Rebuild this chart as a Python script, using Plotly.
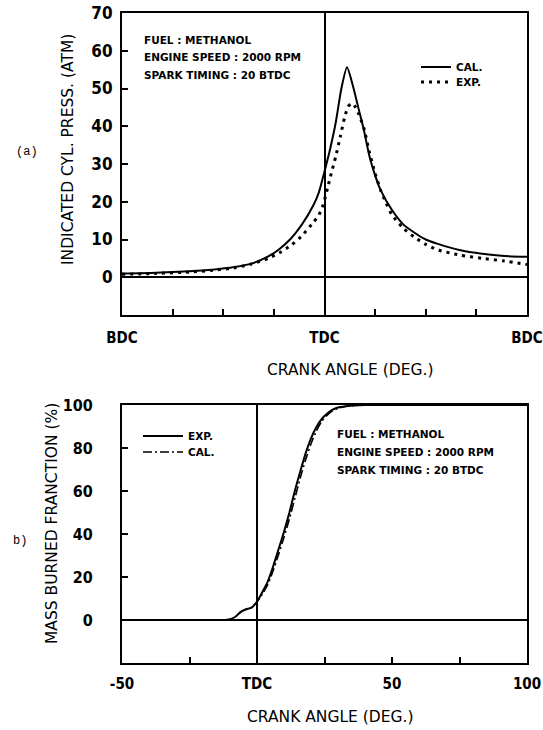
import plotly.graph_objects as go

# ---------------- data ----------------
# (a) indicated cylinder pressure vs crank angle (deg, TDC = 0)
p_cal_deg = [-180, -150, -120, -100, -80, -65, -50, -40, -30, -20, -10, -5, 0, 5, 10, 15, 20,
             25, 30, 35, 40, 45, 50, 60, 70, 80, 90, 100, 120, 140, 160, 180]
p_cal_atm = [1.0, 1.2, 1.6, 2.0, 2.7, 3.6, 5.5, 7.5, 10.2, 14.0, 19.0, 22.5, 28.0, 34.0, 41.0, 50.0, 55.6,
             51.0, 45.0, 39.0, 32.0, 27.0, 23.0, 17.8, 14.0, 11.8, 10.0, 8.9, 7.2, 6.2, 5.6, 5.4]

p_exp_deg = [-180, -150, -120, -100, -80, -65, -50, -40, -30, -20, -10, -5, -2, 0, 3, 6, 10, 14, 18,
             21, 24, 27, 30, 35, 40, 45, 50, 55, 60, 70, 80, 90, 100, 120, 140, 160, 180]
p_exp_atm = [0.8, 1.0, 1.4, 1.8, 2.5, 3.5, 5.0, 6.5, 8.4, 11.0, 14.5, 16.5, 18.5, 20.4, 24.0, 27.5, 32.0, 37.2, 42.5,
             45.2, 46.1, 45.3, 43.5, 39.5, 33.0, 27.5, 23.0, 19.5, 16.5, 13.0, 10.6, 8.7, 7.3, 5.9, 5.0, 4.3, 3.4]

# (b) mass burned fraction vs crank angle
b_exp_deg = [-50, -20, -12, -10, -8, -6, -4, -2, 0, 2, 4, 6, 8, 10, 12, 14, 16, 18, 20, 22, 24, 26, 28,
             30, 33, 36, 40, 100]
b_exp_pct = [0, 0, 0, 0.3, 1.5, 3.8, 5.0, 5.8, 8.5, 13, 18, 25, 33, 41, 50, 60, 69, 77.5, 84.5, 89.8, 93.5, 96, 97.8,
             98.8, 99.4, 99.8, 100, 100]

b_cal_deg = [-50, -20, -12, -10, -8, -6, -4, -2, 0, 2, 4, 6, 8, 10, 12, 14, 16, 18, 20, 22, 24, 26, 28,
             30, 33, 36, 40, 100]
b_cal_pct = [0, 0, 0, 0.3, 1.5, 3.8, 5.0, 5.8, 8.5, 12, 16.5, 23, 30.5, 38.5, 47, 56.5, 66, 74.5, 82, 88, 92.5,
             95.3, 97.3, 98.5, 99.4, 99.8, 100, 100]

conditions = ["FUEL : METHANOL", "ENGINE SPEED : 2000 RPM", "SPARK TIMING : 20 BTDC"]

# ---------------- layout helpers ----------------
W, H = 543, 730
FONT = "DejaVu Sans Condensed, Liberation Sans Narrow, Arial Narrow, sans-serif"
WIDE = "DejaVu Sans, Liberation Sans, sans-serif"


def fx(px):
    return px / W


def fy(py):
    return 1 - py / H


fig = go.Figure()

# one legend box per entry so the rows can sit close together
fig.add_trace(go.Scatter(x=p_cal_deg, y=p_cal_atm, mode="lines", name="CAL.",
                         line=dict(color="black", width=2, shape="spline", smoothing=0.6),
                         xaxis="x", yaxis="y", legend="legend"))
fig.add_trace(go.Scatter(x=p_exp_deg, y=p_exp_atm, mode="lines", name="EXP.",
                         line=dict(color="black", width=3, dash="3px,5px", shape="spline", smoothing=0.6),
                         xaxis="x", yaxis="y", legend="legend2"))

fig.add_trace(go.Scatter(x=b_exp_deg, y=b_exp_pct, mode="lines", name="EXP.",
                         line=dict(color="black", width=2, shape="spline", smoothing=0.5),
                         xaxis="x2", yaxis="y2", legend="legend3"))
fig.add_trace(go.Scatter(x=b_cal_deg, y=b_cal_pct, mode="lines", name="CAL.",
                         line=dict(color="black", width=1.6, dash="9px,3px,2px,3px", shape="spline", smoothing=0.5),
                         xaxis="x2", yaxis="y2", legend="legend4"))

TICKFONT = dict(family=FONT, size=17, color="black", weight="bold")
axis_common = dict(showline=True, linecolor="black", linewidth=2, mirror=True, showgrid=False,
                   zeroline=True, zerolinecolor="black", zerolinewidth=1.5, automargin=False,
                   ticks="inside", ticklen=6, tickwidth=1.5, tickcolor="black",
                   tickfont=TICKFONT)

x_dom = [fx(122), fx(527)]
XTICKFONT = dict(family=FONT, size=15, color="black", weight="bold")
NOTE = dict(family=WIDE, size=10.5, color="black", weight="bold")


def legend_at(px, py, width):
    return dict(x=fx(px), y=fy(py), xanchor="left", yanchor="middle", bgcolor="rgba(0,0,0,0)",
                font=NOTE, itemwidth=width, tracegroupgap=0)


fig.update_layout(
    template="none",
    width=W, height=H,
    margin=dict(l=0, r=0, t=0, b=0, autoexpand=False),
    paper_bgcolor="white", plot_bgcolor="white",
    font=dict(family=FONT, color="black"),
    xaxis=dict(axis_common, domain=x_dom, anchor="y", range=[-180, 180],
               tickmode="array", tickvals=[-180, 0, 180], ticktext=["BDC", "TDC", "BDC"],
               tickfont=XTICKFONT, ticklabelstandoff=8,
               minor=dict(tickmode="array", tickvals=[-135, -90, -45, 45, 90, 135],
                          ticks="inside", ticklen=6, tickwidth=1.5, tickcolor="black")),
    yaxis=dict(axis_common, domain=[fy(315), fy(13)], anchor="x", range=[-10, 70],
               tickmode="array", tickvals=[0, 10, 20, 30, 40, 50, 60, 70], ticklabelstandoff=4),
    xaxis2=dict(axis_common, domain=x_dom, anchor="y2", range=[-50, 100],
                tickmode="array", tickvals=[-50, 0, 50, 100], ticktext=["-50", "TDC", "50", "100"],
                tickfont=XTICKFONT, ticklabelstandoff=6,
                minor=dict(tickmode="array", tickvals=[-25, 25, 75],
                           ticks="inside", ticklen=6, tickwidth=1.5, tickcolor="black")),
    yaxis2=dict(axis_common, domain=[fy(663), fy(405)], anchor="x2", range=[-20, 100],
                tickmode="array", tickvals=[0, 20, 40, 60, 80, 100], ticklabelstandoff=24,
                tickfont=dict(family=FONT, size=16, color="black", weight="bold")),
    legend=legend_at(416, 67, 30),
    legend2=legend_at(416, 82, 30),
    legend3=legend_at(138, 436, 40),
    legend4=legend_at(138, 452, 40),
    showlegend=True,
)

ann = []
# condition notes
for i, t in enumerate(conditions):
    ann.append(dict(text=t, x=fx(142), y=fy(40 + 17.5 * i), xref="paper", yref="paper",
                    xanchor="left", yanchor="middle", showarrow=False, font=NOTE))
    ann.append(dict(text=t, x=fx(335), y=fy(434 + 18 * i), xref="paper", yref="paper",
                    xanchor="left", yanchor="middle", showarrow=False, font=NOTE))

# axis titles and panel labels
TITLE = dict(family=WIDE, size=15.5, color="black")
MONO = dict(family="Liberation Mono, DejaVu Sans Mono, monospace", size=12, color="black")
for text, x, y, angle, f in [
    ("INDICATED CYL. PRESS. (ATM)", 68, 150, -90, TITLE),
    ("CRANK ANGLE (DEG.)", 350, 370, 0, TITLE),
    ("MASS BURNED FRANCTION (%)", 52, 524, -90, TITLE),
    ("CRANK ANGLE (DEG.)", 330, 717, 0, TITLE),
    ("(a)", 27, 152, 0, MONO),
    ("b)", 20, 541, 0, MONO),
]:
    ann.append(dict(text=text, x=fx(x), y=fy(y), textangle=angle, xref="paper", yref="paper",
                    xanchor="center", yanchor="middle", showarrow=False, font=f))
fig.update_layout(annotations=ann)

fig.write_html("out.html")
